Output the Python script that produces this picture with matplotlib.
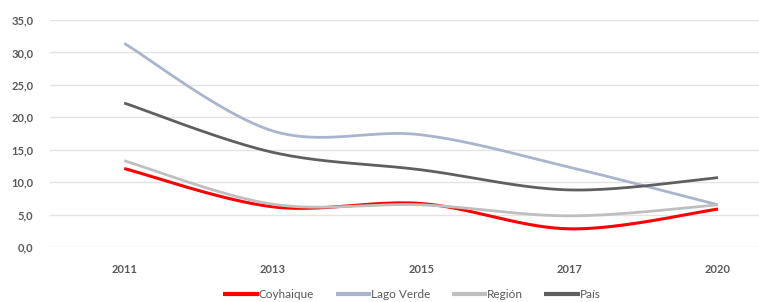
import numpy as np
import matplotlib
matplotlib.use("Agg")
import matplotlib.pyplot as plt
from matplotlib.ticker import FuncFormatter

years = ["2011", "2013", "2015", "2017", "2020"]
coyhaique = [12.1, 6.2, 6.7, 2.8, 5.85]
lago_verde = [31.4, 17.9, 17.3, 12.3, 6.5]
region = [13.3, 6.6, 6.5, 4.8, 6.5]
pais = [22.2, 14.6, 11.9, 8.8, 10.7]

series = [
    ("Coyhaique", coyhaique, "#FF0000"),
    ("Lago Verde", lago_verde, "#A9B5CC"),
    ("Región", region, "#BFBFBF"),
    ("País", pais, "#5F5F5F"),
]

FONT = ["Lato", "DejaVu Sans"]


def smooth(x, y, n=40):
    x = np.asarray(x, float)
    y = np.asarray(y, float)
    px = np.concatenate([[x[0]], x, [x[-1]]])
    py = np.concatenate([[y[0]], y, [y[-1]]])
    xs, ys = [], []
    t = np.linspace(0, 1, n)
    for i in range(1, len(px) - 2):
        p0 = np.array([px[i], py[i]])
        p3 = np.array([px[i + 1], py[i + 1]])
        c1 = p0 + (np.array([px[i + 1], py[i + 1]]) - np.array([px[i - 1], py[i - 1]])) / 6
        c2 = p3 - (np.array([px[i + 2], py[i + 2]]) - np.array([px[i], py[i]])) / 6
        b = ((1 - t) ** 3)[:, None] * p0 + (3 * (1 - t) ** 2 * t)[:, None] * c1 + \
            (3 * (1 - t) * t ** 2)[:, None] * c2 + (t ** 3)[:, None] * p3
        xs.append(b[:, 0])
        ys.append(b[:, 1])
    return np.concatenate(xs), np.concatenate(ys)


fig = plt.figure(figsize=(7.59, 3.02), dpi=100)
ax = fig.add_axes([50 / 759, 55 / 302, 709 / 759, 227 / 302])
xpos = np.arange(len(years))
for name, vals, col in series:
    sx, sy = smooth(xpos, vals)
    ax.plot(sx, sy, color=col, lw=2.0 if name != "Coyhaique" else 2.2,
            label=name, solid_capstyle="butt")

ax.set_ylim(0, 35)
ax.set_yticks(np.arange(0, 36, 5))
ax.set_xlim(-0.5, 4.276)
ax.set_xticks(xpos)
ax.set_xticklabels(years)
ax.yaxis.set_major_formatter(FuncFormatter(lambda v, p: f"{v:.1f}".replace(".", ",")))
ax.grid(axis="y", color="#E4E4E4", lw=1.0)
ax.set_axisbelow(True)
for s in ax.spines.values():
    s.set_visible(False)
ax.tick_params(length=0, colors="#595959", labelsize=8)
ax.tick_params(axis="y", pad=12)
ax.tick_params(axis="x", pad=12)
for lbl in ax.get_xticklabels() + ax.get_yticklabels():
    lbl.set_fontweight("bold")
    lbl.set_family(FONT)

leg = fig.legend(loc="lower center", bbox_to_anchor=(412 / 759, -0.03), ncol=4,
                 frameon=False, handlelength=3.0, handletextpad=0.0,
                 columnspacing=1.8, prop={"family": FONT, "size": 8.5})
for t in leg.get_texts():
    t.set_color("#595959")
for h in leg.get_lines():
    h.set_linewidth(3)

fig.savefig("out.png", dpi=100)
